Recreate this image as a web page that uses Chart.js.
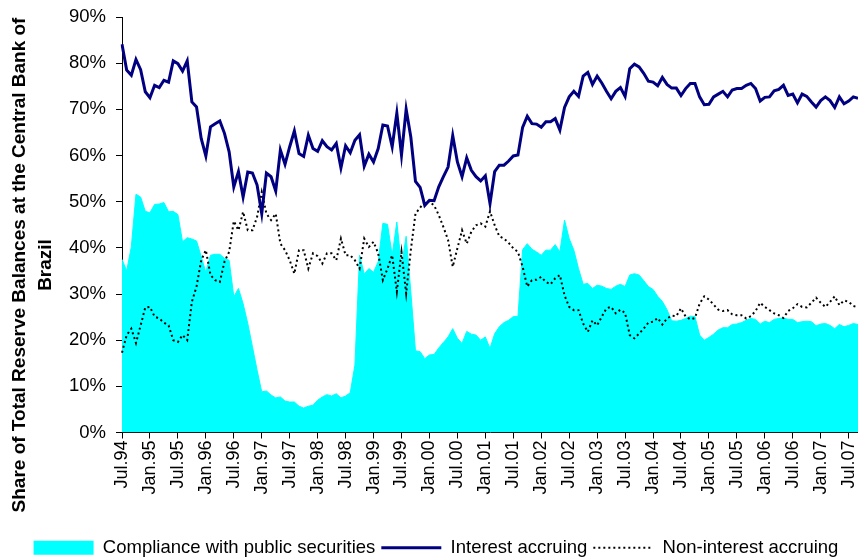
<!DOCTYPE html>
<html>
<head>
<meta charset="utf-8">
<title>Reserve balances at the Central Bank of Brazil</title>
<script src="https://cdn.jsdelivr.net/npm/chart.js@4.4.1/dist/chart.umd.min.js"></script>
<style>
  body { margin: 0; background: #fff; }
  #wrap { width: 858px; height: 558px; }
</style>
</head>
<body>
<div id="wrap"><canvas id="reservas" width="858" height="558"></canvas></div>
<script>
// monthly shares (%), Jul.94 .. Sep.07
const compliance = [
  37.5, 35.0, 40.2, 51.6, 51.0, 47.9, 47.6, 49.4, 49.5, 49.8, 47.8, 47.9, 47.2, 41.3, 42.2, 41.9, 41.5, 38.1, 34.7, 38.4,
  38.6, 38.6, 37.7, 37.3, 29.4, 31.2, 27.9, 23.6, 18.6, 13.5, 8.8, 9.0, 8.1, 7.5, 7.7, 6.8, 6.6, 6.6, 5.7, 5.3,
  5.7, 5.9, 7.0, 7.7, 8.2, 7.9, 8.4, 7.5, 7.9, 8.6, 14.6, 38.4, 34.3, 35.5, 34.7, 37.0, 45.3, 45.1, 38.4, 45.6,
  36.1, 42.5, 30.5, 17.7, 17.5, 16.0, 16.8, 16.9, 18.3, 19.5, 20.7, 22.5, 20.4, 19.3, 21.9, 21.3, 21.1, 20.0, 20.7,
  18.2, 21.4, 22.9, 23.8, 24.3, 25.1, 25.1, 39.6, 40.9, 39.7, 39.1, 38.4, 39.5, 39.5, 40.7, 39.1, 46.0, 42.0, 39.5, 35.5,
  32.1, 32.3, 31.2, 31.9, 31.7, 31.2, 31.0, 31.7, 32.1, 31.6, 34.1, 34.4, 34.1, 32.9, 31.6, 31.0, 29.5, 28.4, 26.6, 24.2,
  24.1, 24.3, 24.7, 25.2, 25.1, 21.1, 20.0, 20.6, 21.3, 22.2, 22.7, 22.7, 23.4, 23.5, 23.8, 24.3, 24.7, 24.5, 23.5, 24.1,
  23.8, 24.5, 24.7, 24.8, 24.5, 24.5, 23.8, 24.0, 24.1, 24.0, 23.1, 23.5, 23.6, 23.2, 22.5, 23.4, 22.9, 23.2, 23.6, 23.4
];
const interest = [
  84.1, 78.5, 77.4, 80.8, 78.6, 73.8, 72.5, 75.2, 74.7, 76.3, 75.9, 80.5, 79.9, 78.3, 80.5, 71.6, 70.5, 63.7, 59.9, 66.2,
  66.9, 67.5, 64.8, 60.8, 53.2, 56.5, 51.0, 56.4, 56.2, 53.6, 47.4, 56.2, 55.4, 52.3, 61.2, 58.1, 61.9, 65.3, 60.4, 59.8,
  64.4, 61.5, 60.9, 63.2, 61.9, 61.2, 62.6, 57.3, 62.1, 60.6, 63.3, 64.5, 57.7, 60.3, 58.6, 61.5, 66.6, 66.4, 61.9, 69.2,
  60.1, 70.0, 64.0, 54.4, 53.1, 49.2, 50.3, 50.2, 53.2, 55.4, 57.5, 64.3, 58.6, 55.4, 59.5, 56.8, 55.4, 54.5, 55.6,
  49.6, 56.5, 57.9, 57.9, 58.8, 59.9, 60.1, 66.1, 68.5, 66.9, 66.8, 66.1, 67.3, 67.3, 68.0, 65.5, 70.4, 72.7, 73.9, 72.8,
  77.2, 78.0, 75.4, 77.2, 75.7, 73.9, 72.3, 73.9, 74.7, 72.8, 78.8, 79.8, 79.2, 77.8, 76.1, 75.9, 75.1, 76.9, 75.4, 74.6,
  74.6, 73.0, 74.5, 75.6, 75.6, 72.7, 71.0, 71.1, 72.7, 73.3, 73.9, 72.7, 74.2, 74.5, 74.5, 75.2, 75.6, 74.5, 71.8, 72.6,
  72.7, 74.0, 74.3, 75.2, 73.0, 73.3, 71.4, 73.3, 72.8, 71.6, 70.5, 71.9, 72.7, 71.9, 70.4, 72.7, 71.2, 71.8, 72.7, 72.4
];
const nonInterest = [
  17.3, 21.1, 22.5, 19.4, 23.2, 27.1, 27.2, 25.1, 24.7, 23.8, 23.2, 20.0, 19.6, 21.1, 20.0, 28.3, 31.6, 37.3, 39.5, 34.1,
  33.0, 32.6, 37.0, 39.1, 45.8, 43.8, 47.8, 43.8, 43.8, 46.7, 52.1, 47.4, 46.0, 47.4, 40.9, 39.5, 37.3, 34.4, 39.5, 39.5,
  35.5, 38.8, 38.2, 36.6, 38.8, 38.8, 37.3, 42.0, 38.4, 38.4, 37.3, 35.5, 42.0, 40.2, 41.3, 38.8, 33.0, 35.5, 38.4, 30.5,
  39.1, 30.1, 39.5, 47.4, 48.7, 50.0, 50.0, 49.2, 47.1, 44.5, 41.7, 35.9, 39.9, 43.8, 40.9, 43.5, 44.9, 45.3, 44.6,
  47.9, 44.9, 42.5, 42.0, 41.1, 39.9, 39.1, 35.9, 31.6, 33.0, 33.1, 33.7, 32.6, 32.1, 33.4, 34.1, 29.7, 27.2, 26.5, 26.5,
  23.6, 21.8, 24.3, 23.2, 25.1, 26.9, 27.2, 25.8, 26.6, 25.9, 21.1, 20.4, 21.4, 22.5, 23.8, 24.0, 24.8, 23.4, 24.7, 25.3,
  25.2, 26.9, 25.1, 24.5, 24.8, 27.9, 29.5, 28.8, 27.7, 26.6, 26.3, 26.5, 25.6, 25.4, 25.4, 24.7, 25.2, 26.3, 28.1, 27.2,
  26.5, 25.8, 25.4, 24.8, 26.3, 26.9, 27.8, 27.2, 27.1, 28.1, 29.2, 28.1, 27.2, 28.3, 29.5, 27.6, 28.6, 28.3, 27.4, 27.1
];
// labels shown every 6 months
const tickLabels = [
  'Jul.94', 'Jan.95', 'Jul.95', 'Jan.96', 'Jul.96', 'Jan.97', 'Jul.97', 'Jan.98', 'Jul.98',
  'Jan.99', 'Jul.99', 'Jan.00', 'Jul.00', 'Jan.01', 'Jul.01', 'Jan.02', 'Jul.02', 'Jan.03',
  'Jul.03', 'Jan.04', 'Jul.04', 'Jan.05', 'Jul.05', 'Jan.06', 'Jul.06', 'Jan.07', 'Jul.07'
];
const seriesNames = ['Compliance with public securities', 'Interest accruing', 'Non-interest accruing'];

// one category per month
const mesesNombre = ['Jan', 'Feb', 'Mar', 'Apr', 'May', 'Jun', 'Jul', 'Aug', 'Sep', 'Oct', 'Nov', 'Dec'];
const meses = [];
for (let i = 0; i < compliance.length; i++) {
  const m = 6 + i;
  meses.push(mesesNombre[m % 12] + '.' + String((94 + Math.floor(m / 12)) % 100).padStart(2, '0'));
}

const fuente = '"Liberation Sans", Arial, sans-serif';

// rotated two-line title of the y axis
const tituloY = {
  id: 'tituloY',
  afterDraw(chart) {
    const ctx = chart.ctx;
    ctx.save();
    ctx.font = 'bold 19px ' + fuente;
    ctx.fillStyle = '#000';
    ctx.textAlign = 'center';
    ctx.textBaseline = 'middle';
    ctx.translate(20, 265);
    ctx.rotate(-Math.PI / 2);
    ctx.fillText('Share of Total Reserve Balances at the Central Bank of', 0, 0);
    ctx.fillText('Brazil', 0, 26);
    ctx.restore();
  }
};

// push the legend a bit lower / right, like the original
const moverLeyenda = {
  id: 'moverLeyenda',
  afterLayout(chart) {
    const l = chart.legend;
    l.top += 9; l.bottom += 9;
    l.left += 7; l.right += 7;
  }
};

const ctx = document.getElementById('reservas').getContext('2d');
new Chart(ctx, {
  type: 'line',
  data: {
    labels: meses,
    datasets: [{
      label: seriesNames[0],
      data: compliance,
      fill: 'origin',
      backgroundColor: '#00FFFF',
      borderColor: '#00FFFF',
      borderWidth: 1,
      pointRadius: 0,
      order: 3
    }, {
      label: seriesNames[1],
      data: interest,
      fill: false,
      borderColor: '#000080',
      borderWidth: 3,
      pointRadius: 0,
      order: 1
    }, {
      label: seriesNames[2],
      data: nonInterest,
      fill: false,
      borderColor: '#000000',
      borderWidth: 2,
      borderDash: [2, 3],
      pointRadius: 0,
      order: 2
    }]
  },
  options: {
    responsive: false,
    animation: false,
    devicePixelRatio: 1,
    layout: { padding: { top: 17, right: 0, bottom: 0, left: 0 } },
    elements: { line: { tension: 0 } },
    plugins: {
      tooltip: { enabled: false },
      legend: {
        position: 'bottom',
        labels: {
          usePointStyle: true,
          pointStyleWidth: 60,
          boxHeight: 14,
          padding: 6,
          color: '#000',
          font: { size: 18.5, family: fuente },
          generateLabels: (chart) => chart.data.datasets.map((ds, i) => ({
            text: ds.label,
            datasetIndex: i,
            hidden: false,
            fillStyle: i === 0 ? '#00FFFF' : 'rgba(0,0,0,0)',
            strokeStyle: ds.borderColor,
            lineWidth: i === 0 ? 0 : ds.borderWidth,
            lineDash: ds.borderDash || [],
            pointStyle: i === 0 ? 'rect' : 'line',
            fontColor: '#000'
          }))
        }
      }
    },
    scales: {
      x: {
        grid: {
          drawOnChartArea: false,
          tickLength: 6,
          tickColor: (c) => (c.index % 6 === 0 ? '#000' : 'rgba(0,0,0,0)')
        },
        border: { color: '#000', width: 1 },
        ticks: {
          autoSkip: false,
          minRotation: 90,
          maxRotation: 90,
          padding: 2,
          color: '#000',
          font: { size: 18, family: fuente },
          callback: (v, idx) => (idx % 6 === 0 ? tickLabels[idx / 6] : '')
        },
        afterFit: (scale) => {
          scale.height = 91;
          scale.paddingLeft = 0;
          scale.paddingRight = 0;
        }
      },
      y: {
        min: 0,
        max: 90,
        grid: { drawOnChartArea: false, tickLength: 6, tickColor: '#000' },
        border: { color: '#000', width: 1 },
        ticks: {
          stepSize: 10,
          padding: 10,
          color: '#000',
          font: { size: 18.5, family: fuente },
          callback: (v) => v + '%'
        },
        afterFit: (scale) => {
          scale.width = 122;
          scale.paddingTop = 0;
          scale.paddingBottom = 0;
        }
      }
    }
  },
  plugins: [tituloY, moverLeyenda]
});
</script>
</body>
</html>
